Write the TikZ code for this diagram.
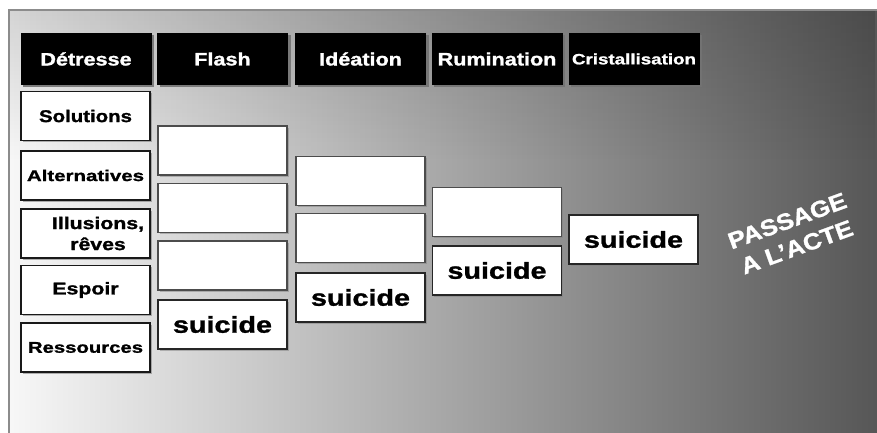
\documentclass[tikz,border=0pt]{standalone}
\usepackage{fontspec}
\usepackage{graphicx}
\setmainfont{Liberation Sans}[BoldFeatures={FakeBold=1.2}]
\usetikzlibrary{shadows,fadings}
\newcommand\hstr[2]{\scalebox{#1}[1]{#2}}
\newcommand\fsz[1]{\fontsize{#1}{#1}\selectfont}
\tikzfading[name=topdark, top color=transparent!0, bottom color=transparent!100]
\begin{document}
\begin{tikzpicture}[x=1pt,y=-1pt,
  hdr/.style={fill=black, text=white, minimum width=131pt, minimum height=52pt,
    inner sep=0pt, font=\bfseries\fsz{18},
    drop shadow={shadow xshift=2.5pt, shadow yshift=-2.5pt, fill=black!55, opacity=0.9}},
  lbox/.style={fill=white, draw=black!90, line width=1.8pt, minimum width=129pt,
    minimum height=49pt, inner sep=0pt, font=\bfseries\fsz{17},
    drop shadow={shadow xshift=1.5pt, shadow yshift=-1.5pt, fill=black!50, opacity=0.6}},
  cbox/.style={fill=white, draw=black!70, line width=1.5pt, minimum width=129pt,
    minimum height=49pt, inner sep=0pt,
    drop shadow={shadow xshift=1.5pt, shadow yshift=-1.5pt, fill=black!50, opacity=0.5}},
  sbox/.style={cbox, draw=black!85, line width=1.8pt, font=\bfseries\fsz{23}},
]
\useasboundingbox (0,0) rectangle (877,433);
% page and shaded panel
\fill[white] (0,0) rectangle (877,433);
\shade[left color=white!97!black, right color=white!34!black] (9,10) rectangle (877,433);
\fill[black, opacity=0.14, path fading=topdark] (9,10) rectangle (877,160);
\draw[black!45, line width=1.5pt] (9,433) -- (9,10) -- (877,10);

% column headers
\node[hdr] (h1) at (86,59) {\hstr{1.2}{Détresse}};
\node[hdr] (h2) at (222.5,59) {\hstr{1.2}{Flash}};
\node[hdr] (h3) at (360.5,59) {\hstr{1.2}{Idéation}};
\node[hdr] (h4) at (497,59) {\hstr{1.2}{Rumination}};
\node[hdr, font=\bfseries\fsz{15}] (h5) at (634,59) {\hstr{1.25}{Cristallisation}};

% first column
\node[lbox] (d1) at (85.5,116) {\hstr{1.2}{Solutions}};
\node[lbox, font=\bfseries\fsz{15.5}] (d2) at (85.5,175.5) {\hstr{1.32}{Alternatives}};
\node[lbox, align=center, font=\bfseries\fontsize{17}{21}\selectfont] (d3) at (85.5,233.5)
  {\hspace*{25pt}\hstr{1.25}{Illusions,}\\\hspace*{25pt}\hstr{1.25}{rêves}};
\node[lbox] (d4) at (85.5,290) {\hstr{1.25}{Espoir}};
\node[lbox, font=\bfseries\fsz{15.5}] (d5) at (85.5,347.5) {\hstr{1.31}{Ressources}};

% Flash
\node[cbox] (f1) at (222.5,150.5) {};
\node[cbox] (f2) at (222.5,208) {};
\node[cbox] (f3) at (222.5,265.5) {};
\node[sbox] (f4) at (222.5,324.5) {\hstr{1.25}{suicide}};

% Idéation
\node[cbox] (i1) at (360.5,181) {};
\node[cbox] (i2) at (360.5,238) {};
\node[sbox] (i3) at (360.5,297.5) {\hstr{1.25}{suicide}};

% Rumination
\node[cbox] (r1) at (497,212) {};
\node[sbox] (r2) at (497,270.5) {\hstr{1.25}{suicide}};

% Cristallisation
\node[sbox] (c1) at (633.5,239.5) {\hstr{1.25}{suicide}};

% rotated caption
\node[text=white, align=center, rotate=20, font=\bfseries\fontsize{23}{28}\selectfont]
  (passage) at (792,234) {\hstr{1.12}{PASSAGE}\\\hstr{1.12}{A L'ACTE}};
\end{tikzpicture}
\end{document}
